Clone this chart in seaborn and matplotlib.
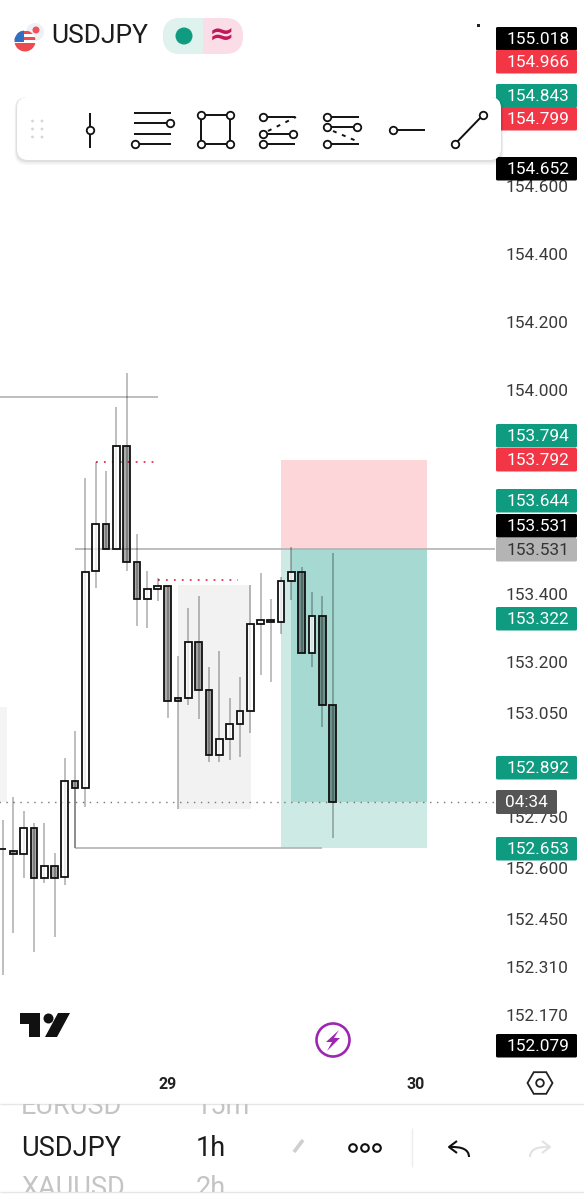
import matplotlib
matplotlib.use("Agg")
import matplotlib.pyplot as plt
import numpy as np
import pandas as pd
import seaborn as sns
from matplotlib.patches import Circle, FancyBboxPatch, PathPatch, Polygon, Rectangle, RegularPolygon
from matplotlib.path import Path

# candles
opens = [152.650, 152.644, 152.635, 152.712, 152.565, 152.600, 152.568, 152.850, 152.829, 153.468, 153.606,
         153.532, 153.835, 153.494, 153.385, 153.415, 153.424, 153.094, 153.094, 153.259, 153.118, 152.926,
         152.974, 153.018, 153.056, 153.312, 153.324, 153.318, 153.438, 153.465, 153.226, 153.335, 153.074]
closes = [152.650, 152.635, 152.712, 152.565, 152.600, 152.565, 152.850, 152.829, 153.465, 153.606, 153.532,
          153.835, 153.494, 153.385, 153.415, 153.424, 153.085, 153.085, 153.259, 153.118, 152.926, 152.974,
          153.018, 153.056, 153.312, 153.324, 153.318, 153.438, 153.465, 153.226, 153.335, 153.074, 152.788]
highs = [152.735, 152.803, 152.762, 152.726, 152.726, 152.638, 152.918, 152.997, 153.741, 153.788, 153.762,
         153.950, 154.050, 153.576, 153.468, 153.447, 153.424, 153.218, 153.359, 153.394, 153.185, 153.232,
         153.094, 153.156, 153.426, 153.462, 153.385, 153.450, 153.538, 153.479, 153.406, 153.394, 153.521]
lows = [152.279, 152.403, 152.565, 152.347, 152.550, 152.391, 152.544, 152.653, 152.774, 153.418, 153.532,
        153.532, 153.468, 153.306, 153.300, 153.379, 153.035, 152.768, 153.074, 153.032, 152.906, 152.906,
        152.912, 152.921, 152.991, 153.162, 153.141, 153.282, 153.382, 153.226, 153.185, 153.009, 152.682]

# the printed scale drifts a little from the candle scale near the bottom
tick_labels = ["154.600", "154.400", "154.200", "154.000", "153.400", "153.200", "153.050", "152.750",
               "152.600", "152.450", "152.310", "152.170"]
tick_spots = [154.6, 154.4, 154.2, 154.0, 153.4, 153.2, 153.05, 152.744, 152.594, 152.444, 152.304, 152.161]
day_ticks = [16, 40.1]
day_labels = ["29", "30"]

tag_labels = ["155.018", "154.966", "154.843", "154.799", "154.652", "153.794", "153.792", "153.644",
              "153.531", "153.531", "153.322", "152.892", "152.653", "152.079"]
tag_kinds = ["black", "red", "green", "red", "black", "green", "red", "green",
             "black", "gray", "green", "green", "green", "black"]
tag_tops = [27, 50, 84, 107, 157, 424, 448, 489, 514, 538, 607, 756, 837, 1034]

entry = 153.531
stop = 153.794
target = 152.653
swing_high = 153.979
sweep_a = 153.788
sweep_b = 153.441
zone_top = 153.426
zone_bottom = 152.768

W, H = 584, 1200
CHART_H = 1072
BAR_STEP = 10.3
PX_PER_UNIT = 340

sns.set_theme(style="white")
plt.rcParams["font.family"] = ["Roboto", "DejaVu Sans"]
plt.rcParams["lines.solid_capstyle"] = "butt"

fig = plt.figure(figsize=(W / 100, H / 100), dpi=100)
ax = fig.add_axes([0, (H - CHART_H) / H, 1, CHART_H / H])
ax.set_facecolor("white")

df = pd.DataFrame({"bar": np.arange(len(opens)), "open": opens, "close": closes})
df["base"] = df[["open", "close"]].min(axis=1)
df["size"] = (df["open"] - df["close"]).abs()
up = df[df["close"] >= df["open"]]
down = df[df["close"] < df["open"]]

# drawings under the candles
ax.add_patch(Rectangle((17, zone_bottom), 7.1, zone_top - zone_bottom, color="#f2f2f2", lw=0, zorder=1))
ax.add_patch(Rectangle((-0.3, closes[-1]), 0.7, 0.28, color="#f4f4f4", lw=0, zorder=1))
ax.add_patch(Rectangle((27, entry), 14.2, stop - entry, color="#f23645", alpha=0.2, lw=0, zorder=1))
ax.add_patch(Rectangle((27, target), 14.2, entry - target, color="#089981", alpha=0.2, lw=0, zorder=1))
ax.add_patch(Rectangle((28, closes[-1]), 13.2, entry - closes[-1], color="#089981", alpha=0.2, lw=0, zorder=1))

ax.hlines(swing_high, -1, 15, color="#b3b3b3", lw=1.2, zorder=1.5)
ax.hlines(entry, 7, 47.8, color="#b3b3b3", lw=1.2, zorder=1.5)
ax.hlines(target, 7, 31, color="#b3b3b3", lw=1.2, zorder=1.5)
ax.vlines(7, target, closes[7], color="#b3b3b3", lw=1.2, zorder=1.5)
ax.hlines(sweep_a, 9, 15, color="#dd3355", lw=1.3, linestyles=(0, (1, 3.4)), zorder=1.5)
ax.hlines(sweep_b, 15, 22.8, color="#dd3355", lw=1.3, linestyles=(0, (1, 3.4)), zorder=1.5)
ax.hlines(closes[-1], -1, 47.8, color="#777777", lw=1.0, linestyles=(0, (1, 4)), zorder=1.5)

ax.vlines(df["bar"], lows, highs, color="black", alpha=0.3, lw=1.2, zorder=2)

for part, fill in [(up, (1, 1, 1, 0.72)), (down, (0, 0, 0, 0.33))]:
    before = len(ax.patches)
    sns.barplot(data=part, x="bar", y="size", bottom=part["base"], native_scale=True, width=0.66,
                errorbar=None, color="white", ax=ax, zorder=3)
    for p in ax.patches[before:]:
        p.set_facecolor(fill)
        p.set_edgecolor("#111111")
        p.set_linewidth(1.3)

ax.set_xlim(-3 / BAR_STEP, (W - 3) / BAR_STEP)
ax.set_ylim(154 - (CHART_H - 390) / PX_PER_UNIT, 154 + 390 / PX_PER_UNIT)
ax.set_xlabel("")
ax.set_ylabel("")
sns.despine(ax=ax, left=True, bottom=True, right=True, top=True)

ax.yaxis.tick_right()
ax.set_yticks(tick_spots)
ax.set_yticklabels(tick_labels, ha="right", color="#3a3a3a", fontsize=12.4)
ax.tick_params(axis="y", length=0, pad=-11)
ax.set_xticks(day_ticks)
ax.set_xticklabels(day_labels, fontweight="bold", color="#222222", fontsize=11.5)
ax.tick_params(axis="x", length=0, pad=3.6)

# app chrome on top, in screen pixels
ui = fig.add_axes([0, 0, 1, 1], zorder=5)
ui.set_xlim(0, W)
ui.set_ylim(H, 0)
ui.axis("off")
ui.patch.set_alpha(0)

tag_fill = {"black": "#000000", "red": "#f23645", "green": "#0f9b80", "gray": "#b4b4b4"}
for label, kind, top in zip(tag_labels, tag_kinds, tag_tops):
    ui.add_patch(FancyBboxPatch((496, top), 81, 23.5, boxstyle="round,pad=0,rounding_size=1.5",
                                fc=tag_fill[kind], ec="none"))
    ui.text(569.5, top + 12.5, label, ha="right", va="center", fontsize=12.4,
            color="#333333" if kind == "gray" else "white")
ui.add_patch(FancyBboxPatch((496, 790), 61, 24, boxstyle="round,pad=0,rounding_size=1.5", fc="#555555", ec="none"))
ui.text(526, 802.5, "04:34", ha="center", va="center", fontsize=12.4, color="white")

# header
ui.add_patch(Circle((35, 32), 9, fc="#eef0f8", ec="none"))
ui.add_patch(Circle((36, 30), 3.5, fc="#f0525a", ec="none"))
flag = Circle((25, 41), 10.5, fc="white", ec="none")
ui.add_patch(flag)
for y0, hh, col in [(31, 3, "#ee4b50"), (37, 3, "#ee4b50"), (43, 3, "#ee4b50"), (46, 6, "#ee4b50"), (30, 12, "#2f6fc4")]:
    ww = 10 if col == "#2f6fc4" else 22
    r = ui.add_patch(Rectangle((14, y0), ww, hh, fc=col, ec="none"))
    r.set_clip_path(flag)
ui.text(51.5, 36, "USDJPY", ha="left", va="center", fontsize=19, color="#1c1c1c")
ui.add_patch(FancyBboxPatch((163, 18), 80, 36, boxstyle="round,pad=0,rounding_size=18", fc="#fadde6", ec="none"))
left_pill = ui.add_patch(Rectangle((163, 18), 40, 36, fc="#dff2ed", ec="none"))
left_pill.set_clip_path(FancyBboxPatch((163, 18), 80, 36, boxstyle="round,pad=0,rounding_size=18",
                                       transform=ui.transData))
ui.add_patch(Circle((184, 36), 8.5, fc="#0f9b80", ec="none"))
ui.text(222, 36, "≈", ha="center", va="center", fontsize=22, fontweight="bold", color="#c2185b",
        family=["DejaVu Sans"])
ui.add_patch(Rectangle((476.5, 23.5), 3, 3, fc="#222222", ec="none"))

# drawing toolbar
for off, a in [(5, 0.03), (3.5, 0.04), (2, 0.06)]:
    ui.add_patch(FancyBboxPatch((17 - off / 2, 97), 484 + off, 63 + off,
                                boxstyle="round,pad=0,rounding_size=12", fc="black", ec="none", alpha=a))
ui.add_patch(FancyBboxPatch((17, 97), 484, 63, boxstyle="round,pad=0,rounding_size=11", fc="white", ec="none"))
for gx in [32.5, 42]:
    for gy in [121, 129, 137]:
        ui.add_patch(Circle((gx, gy), 1.4, fc="#d5d5d5", ec="none"))


def seg(x0, y0, x1, y1, **kw):
    ui.plot([x0, x1], [y0, y1], color="#111111", lw=kw.get("lw", 1.4), ls=kw.get("ls", "-"), zorder=6)


def knob(x, y):
    ui.plot([x], [y], "o", ms=5.4, mfc="white", mec="#111111", mew=1.3, zorder=7)


seg(90, 113, 90, 148)
knob(90, 130)
for yy in [113, 123, 134, 144]:
    seg(134, yy, 171, yy)
knob(170, 123)
knob(134.5, 144)
seg(201, 115, 230, 115)
seg(230, 115, 230, 144)
seg(230, 144, 201, 144)
seg(201, 144, 201, 115)
for xx in [201, 230]:
    for yy in [115, 144]:
        knob(xx, yy)
for yy in [117, 134, 144]:
    seg(263, yy, 295, yy)
    knob(263, yy)
knob(293, 134)
seg(268, 131, 296, 117, ls=(0, (2, 3)))
for yy in [117, 127, 144]:
    seg(327, yy, 359, yy)
    knob(327, yy)
knob(357, 127)
seg(333, 131, 359, 142, ls=(0, (2, 3)))
seg(393, 130, 425, 130)
knob(393, 130)
seg(455, 144, 483, 115)
knob(455, 144)
knob(483, 115)

# logo + bolt
ui.add_patch(Polygon([(20, 1013), (40, 1013), (40, 1037), (29, 1037), (29, 1024), (20, 1024)], fc="#111111", ec="none"))
ui.add_patch(Circle((48.5, 1018.5), 5, fc="#111111", ec="none"))
ui.add_patch(Polygon([(70, 1013), (57, 1037), (45, 1037), (58, 1013)], fc="#111111", ec="none"))
ui.add_patch(Circle((333, 1040), 16.5, fc="white", ec="#9c27b0", lw=1.9))
ui.add_patch(Polygon([(339, 1030), (326, 1042), (332, 1042), (327, 1051), (340, 1038), (334, 1038)],
                     fc="#9c27b0", ec="none"))
ui.add_patch(RegularPolygon((540, 1083), 6, radius=12.5, orientation=np.pi / 6, fc="none", ec="#222222", lw=1.3))
ui.add_patch(Circle((540, 1083), 3.8, fc="none", ec="#222222", lw=1.3))

# bottom bar, the wheel cuts off the rows above and below the selected one
ui.plot([0, W], [1104, 1104], color="#e6e6e6", lw=1)
ui.plot([0, W], [1192, 1192], color="#e6e6e6", lw=1)
clip = Rectangle((0, 1104), W, 88, transform=ui.transData)
for tx, ty, s, col in [(21, 1107, "EURUSD", "#c4c4c4"), (196, 1107, "15m", "#c4c4c4"),
                       (21, 1148, "USDJPY", "#1c1c1c"), (196, 1148, "1h", "#1c1c1c"),
                       (21, 1189, "XAUUSD", "#c4c4c4"), (196, 1189, "2h", "#c4c4c4")]:
    t = ui.text(tx, ty, s, ha="left", va="center", fontsize=19.5, color=col)
    t.set_clip_on(True)
    t.set_clip_path(clip)
ui.plot([294, 303], [1152, 1140], color="#cfcfcf", lw=2.6)
for xx in [353, 365, 377]:
    ui.add_patch(Circle((xx, 1148), 3.8, fc="white", ec="#111111", lw=1.5))
ui.plot([412, 412], [1128, 1167], color="#ececec", lw=1)


def arrow(tip, back, end_x, col):
    verts = [(back, 1141), (tip, 1147), (back, 1153)]
    ui.plot(*zip(*verts), color=col, lw=1.5)
    path = Path([(tip, 1147), (end_x, 1146), (end_x, 1157)], [Path.MOVETO, Path.CURVE3, Path.CURVE3])
    ui.add_patch(PathPatch(path, fc="none", ec=col, lw=1.5))


arrow(449, 457, 469, "#111111")
arrow(550, 542, 530, "#e2e2e2")

fig.savefig("out.png", dpi=100, facecolor="white")
